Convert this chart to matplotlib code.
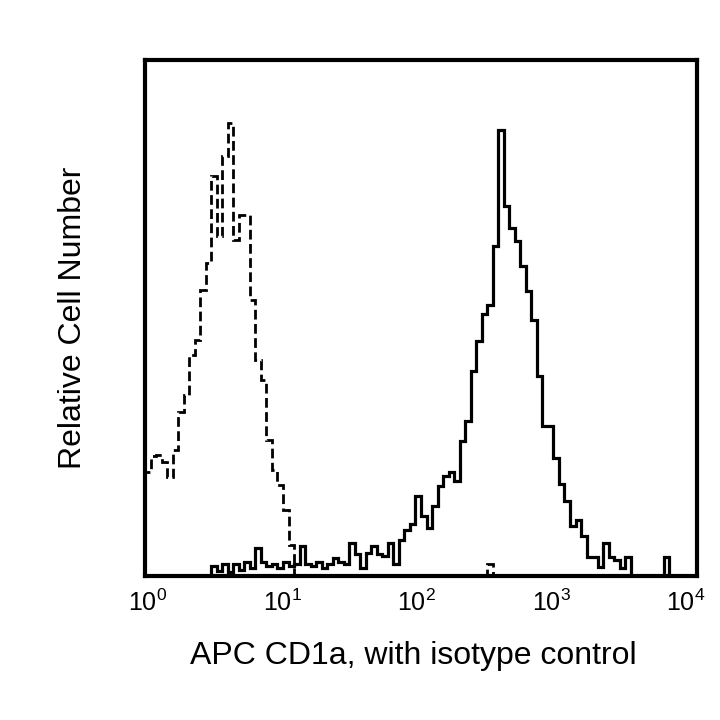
import numpy as np
import matplotlib
matplotlib.use("Agg")
import matplotlib.pyplot as plt
from matplotlib.ticker import LogLocator, NullLocator

plt.rcParams["font.family"] = ["Liberation Sans", "DejaVu Sans"]
plt.rcParams["mathtext.fontset"] = "custom"
plt.rcParams["mathtext.rm"] = "Liberation Sans"

# displayed decade range (the frame runs a little past 10^0 and 10^4)
lo_dec, hi_dec = -0.022, 4.082

# 100 log-spaced channels across the frame
edges = np.logspace(lo_dec, hi_dec, 101)

# isotype control (dashed), relative counts per channel
isotype = [104, 120, 121, 114, 99, 126, 164, 181, 221, 236,
           286, 313, 400, 340, 420, 453, 336, 361, 361, 276,
           216, 196, 136, 106, 91, 66, 31, 0, 0, 0,
           0, 0, 0, 0, 0, 0, 0, 0, 0, 0,
           0, 0, 0, 0, 0, 0, 0, 0, 0, 0,
           0, 0, 0, 0, 0, 0, 0, 0, 0, 0,
           0, 0, 12, 0, 0, 0, 0, 0, 0, 0,
           0, 0, 0, 0, 0, 0, 0, 0, 0, 0,
           0, 0, 0, 0, 0, 0, 0, 0, 0, 0,
           0, 0, 0, 0, 0, 0, 0, 0, 0, 0]

# CD1a stained (solid)
cd1a = [0, 0, 0, 0, 0, 0, 0, 0, 0, 0,
        0, 0, 10, 5, 12, 4, 12, 6, 14, 8,
        28, 14, 10, 12, 8, 14, 10, 12, 30, 12,
        10, 14, 8, 12, 18, 14, 12, 33, 22, 8,
        23, 30, 22, 20, 33, 12, 36, 46, 52, 80,
        60, 48, 70, 90, 100, 104, 95, 135, 155, 205,
        235, 262, 271, 330, 446, 370, 348, 335, 310, 285,
        256, 200, 150, 150, 118, 92, 75, 50, 56, 40,
        19, 19, 9, 33, 19, 16, 8, 19, 0, 0,
        0, 0, 0, 0, 19, 0, 0, 0, 0, 0]

fig = plt.figure(figsize=(7.2, 7.2), dpi=100)
ax = fig.add_axes([0.2014, 0.2, 0.7666, 0.7167])

ax.stairs(isotype, edges, color="black", lw=2, linestyle=(0, (3.5, 1.6)))
ax.stairs(cd1a, edges, color="black", lw=2.3)

ax.set_xscale("log")
ax.set_xlim(10**lo_dec, 10**hi_dec)
ax.set_ylim(0, 516)
ax.set_xticks([1, 10, 100, 1000, 10000])
ax.xaxis.set_minor_locator(NullLocator())
ax.set_yticks([])
ax.tick_params(axis="x", length=0, pad=10, labelsize=18)

for s in ax.spines.values():
    s.set_linewidth(3)

ax.set_xlabel("APC CD1a, with isotype control", fontsize=23, labelpad=22)
ax.xaxis.set_label_coords(0.487, -0.125)
ax.set_ylabel("Relative Cell Number", fontsize=23, labelpad=41)

fig.savefig("out.png", dpi=100)
